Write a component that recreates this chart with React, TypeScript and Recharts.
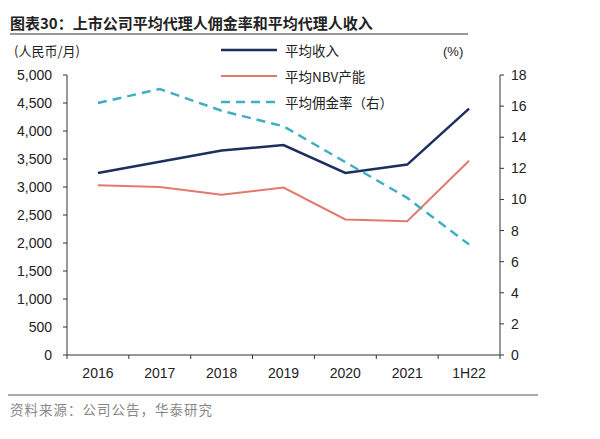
import React from 'react';
import { LineChart, Line, XAxis, YAxis, Legend } from 'recharts';

const categories = ['2016', '2017', '2018', '2019', '2020', '2021', '1H22'];
const avgIncome = [3250, 3450, 3650, 3750, 3250, 3400, 4400];
const avgNbv = [3030, 3000, 2860, 2990, 2420, 2390, 3470];
const commissionRate = [16.2, 17.1, 15.7, 14.7, 12.4, 10.1, 7.1];
const leftTicks = [0, 500, 1000, 1500, 2000, 2500, 3000, 3500, 4000, 4500, 5000];
const rightTicks = [0, 2, 4, 6, 8, 10, 12, 14, 16, 18];
const seriesNames = ['平均收入', '平均NBV产能', '平均佣金率（右）'];

const title = '图表30：上市公司平均代理人佣金率和平均代理人收入';
const leftUnit = '(人民币/月)';
const rightUnit = '(%)';
const source = '资料来源：公司公告，华泰研究';

const COLORS = { income: '#1C2F5E', nbv: '#E5786C', rate: '#3EAFC3' };
const LATIN = '"Liberation Sans", Arial, sans-serif';
const CJK = '"Noto Sans CJK SC", "Liberation Sans", sans-serif';

const data = categories.map((c, i) => ({
  name: c,
  income: avgIncome[i],
  nbv: avgNbv[i],
  rate: commissionRate[i],
}));

const XTick = (props: any) => {
  const { x, y, payload, index } = props;
  const half = payload && payload.offset ? payload.offset : 0;
  const last = index === categories.length - 1;
  return (
    <g>
      <line x1={x - half} x2={x - half} y1={y} y2={y + 4} stroke="#333" strokeWidth={1} />
      {last && <line x1={x + half} x2={x + half} y1={y} y2={y + 4} stroke="#333" strokeWidth={1} />}
      <text x={x} y={y + 23} textAnchor="middle" fontSize={14} fill="#222" fontFamily={LATIN}>
        {payload.value}
      </text>
    </g>
  );
};

const LegendContent = (props: any) => {
  const payload = [...(props.payload || [])].sort(
    (a: any, b: any) => seriesNames.indexOf(a.value) - seriesNames.indexOf(b.value)
  );
  return (
    <div style={{ fontFamily: CJK, fontSize: 13.5, color: '#222' }}>
      {payload.map((p: any, i: number) => (
        <div key={i} style={{ display: 'flex', alignItems: 'center', height: 26 }}>
          <svg width={62} height={10} style={{ marginRight: 4 }}>
            <line
              x1={2}
              x2={58}
              y1={5}
              y2={5}
              stroke={p.color}
              strokeWidth={p.dataKey === 'nbv' ? 2 : 2.5}
              strokeDasharray={p.dataKey === 'rate' ? '9 6' : undefined}
            />
          </svg>
          <span>{p.value}</span>
        </div>
      ))}
    </div>
  );
};

export default function App() {
  return (
    <div style={{ position: 'absolute', left: 0, top: 0, width: 600, height: 439, background: '#fff' }}>
      <div
        style={{
          position: 'absolute',
          left: 10,
          top: 13,
          fontFamily: CJK,
          fontWeight: 700,
          fontSize: 15,
          color: '#222',
          whiteSpace: 'nowrap',
          lineHeight: '20px',
        }}
      >
        {title}
      </div>
      <div style={{ position: 'absolute', left: 10, top: 33, width: 458, height: 2, background: '#999' }} />
      <div
        style={{ position: 'absolute', left: 14, top: 42, fontFamily: CJK, fontSize: 13, color: '#222', whiteSpace: 'nowrap', lineHeight: '18px' }}
      >
        {leftUnit}
      </div>
      <div
        style={{ position: 'absolute', left: 443, top: 43, fontFamily: LATIN, fontSize: 13, color: '#222', whiteSpace: 'nowrap', lineHeight: '18px' }}
      >
        {rightUnit}
      </div>
      <LineChart width={600} height={439} data={data} margin={{ top: 75, right: 50, bottom: 54, left: 7 }}>
        <XAxis
          dataKey="name"
          scale="band"
          axisLine={{ stroke: '#333' }}
          tickLine={false}
          tickSize={0}
          tickMargin={0}
          interval={0}
          height={30}
          tick={<XTick />}
        />
        <YAxis
          yAxisId="left"
          orientation="left"
          domain={[0, 5000]}
          ticks={leftTicks}
          interval={0}
          width={60}
          axisLine={{ stroke: '#333' }}
          tickLine={{ stroke: '#333' }}
          tickSize={4}
          tickMargin={11}
          tickFormatter={(v: number) => v.toLocaleString('en-US')}
          tick={{ fontSize: 14, fill: '#222', fontFamily: LATIN }}
        />
        <YAxis
          yAxisId="right"
          orientation="right"
          domain={[0, 18]}
          ticks={rightTicks}
          interval={0}
          width={50}
          axisLine={{ stroke: '#333' }}
          tickLine={{ stroke: '#333' }}
          tickSize={4}
          tickMargin={7}
          tick={{ fontSize: 14, fill: '#222', fontFamily: LATIN }}
        />
        <Legend
          layout="vertical"
          align="center"
          verticalAlign="middle"
          wrapperStyle={{ position: 'absolute', top: 37, left: 219, width: 220 }}
          content={<LegendContent />}
        />
        <Line
          yAxisId="left"
          type="linear"
          dataKey="income"
          name={seriesNames[0]}
          stroke={COLORS.income}
          strokeWidth={2.5}
          dot={false}
          isAnimationActive={false}
        />
        <Line
          yAxisId="left"
          type="linear"
          dataKey="nbv"
          name={seriesNames[1]}
          stroke={COLORS.nbv}
          strokeWidth={2}
          dot={false}
          isAnimationActive={false}
        />
        <Line
          yAxisId="right"
          type="linear"
          dataKey="rate"
          name={seriesNames[2]}
          stroke={COLORS.rate}
          strokeWidth={2.5}
          strokeDasharray="9 6"
          dot={false}
          isAnimationActive={false}
        />
      </LineChart>
      <div style={{ position: 'absolute', left: 8, top: 394, width: 530, height: 2, background: '#aaa' }} />
      <div
        style={{
          position: 'absolute',
          left: 10,
          top: 399,
          fontFamily: CJK,
          fontSize: 13.5,
          color: '#888',
          whiteSpace: 'nowrap',
          lineHeight: '20px',
          letterSpacing: 1,
        }}
      >
        {source}
      </div>
    </div>
  );
}
